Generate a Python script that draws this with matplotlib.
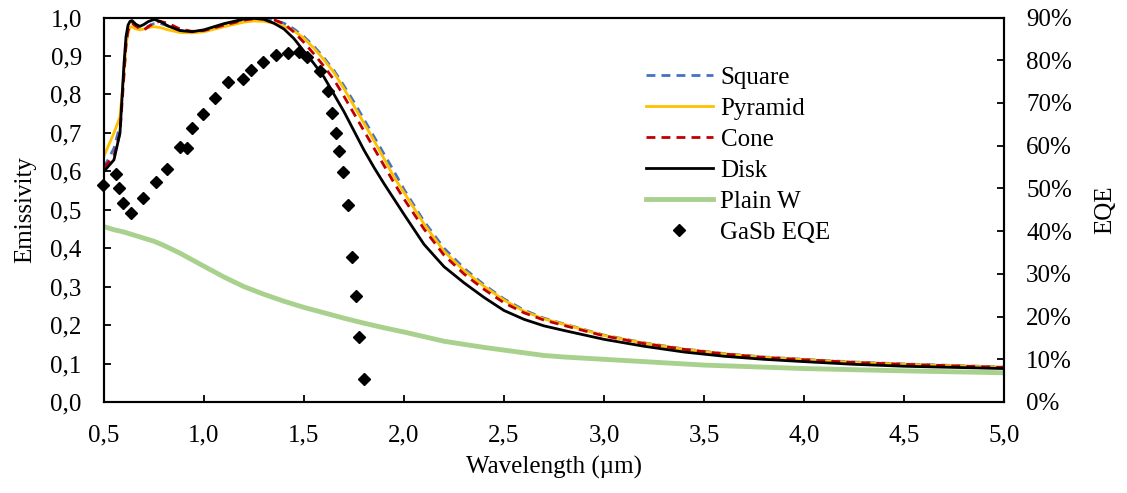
import numpy as np
import matplotlib
matplotlib.use("Agg")
import matplotlib.pyplot as plt
from matplotlib.ticker import FuncFormatter, MultipleLocator

plt.rcParams['font.family'] = ['Liberation Serif', 'STIXGeneral', 'DejaVu Serif']
plt.rcParams['font.size'] = 18

# wavelength grid (um) for the textured emitters
wl = [0.50, 0.55, 0.58, 0.60, 0.61, 0.62, 0.63, 0.64, 0.66, 0.68, 0.70, 0.72, 0.75,
      0.78, 0.82, 0.88, 0.94, 1.00, 1.10, 1.20, 1.25, 1.30, 1.35, 1.40, 1.45, 1.50,
      1.55, 1.60, 1.65, 1.70, 1.75, 1.80, 1.85, 1.90, 1.95, 2.00, 2.10, 2.20, 2.30,
      2.40, 2.50, 2.60, 2.70, 2.80, 3.00, 3.20, 3.40, 3.60, 3.80, 4.00, 4.25, 4.50,
      4.75, 5.00]

square = [0.61, 0.66, 0.72, 0.86, 0.93, 0.965, 0.98, 0.982, 0.975, 0.968, 0.970, 0.977, 0.984,
          0.985, 0.978, 0.966, 0.962, 0.965, 0.978, 0.990, 0.994, 0.995, 0.992, 0.985, 0.970, 0.950,
          0.925, 0.895, 0.862, 0.822, 0.780, 0.735, 0.690, 0.645, 0.600, 0.553, 0.470, 0.400, 0.348,
          0.305, 0.268, 0.239, 0.218, 0.203, 0.174, 0.154, 0.138, 0.126, 0.117, 0.111, 0.104, 0.099,
          0.095, 0.091]

pyramid = [0.64, 0.70, 0.742, 0.86, 0.925, 0.96, 0.975, 0.976, 0.970, 0.968, 0.970, 0.974, 0.976,
           0.974, 0.968, 0.961, 0.960, 0.963, 0.976, 0.988, 0.991, 0.990, 0.985, 0.977, 0.965, 0.946,
           0.920, 0.890, 0.857, 0.815, 0.770, 0.725, 0.680, 0.633, 0.585, 0.545, 0.463, 0.392, 0.342,
           0.301, 0.265, 0.236, 0.216, 0.202, 0.173, 0.153, 0.137, 0.125, 0.116, 0.110, 0.103, 0.098,
           0.094, 0.090]

cone = [0.61, 0.64, 0.70, 0.85, 0.93, 0.965, 0.982, 0.985, 0.978, 0.970, 0.968, 0.975, 0.986,
        0.990, 0.985, 0.970, 0.964, 0.966, 0.980, 0.993, 0.997, 0.998, 0.994, 0.984, 0.962, 0.935,
        0.905, 0.873, 0.838, 0.795, 0.750, 0.705, 0.660, 0.615, 0.570, 0.528, 0.450, 0.382, 0.333,
        0.293, 0.258, 0.232, 0.213, 0.199, 0.172, 0.152, 0.137, 0.125, 0.116, 0.110, 0.103, 0.098,
        0.094, 0.090]

disk = [0.60, 0.63, 0.70, 0.88, 0.95, 0.980, 0.990, 0.992, 0.982, 0.977, 0.982, 0.989, 0.995,
        0.990, 0.978, 0.966, 0.963, 0.968, 0.984, 0.996, 0.998, 0.995, 0.985, 0.970, 0.945, 0.912,
        0.880, 0.845, 0.800, 0.755, 0.705, 0.655, 0.610, 0.568, 0.528, 0.488, 0.410, 0.352, 0.310,
        0.272, 0.238, 0.215, 0.198, 0.186, 0.163, 0.145, 0.130, 0.119, 0.111, 0.105, 0.098, 0.093,
        0.090, 0.087]

# plain tungsten
wl_w = [0.50, 0.55, 0.60, 0.65, 0.70, 0.75, 0.80, 0.88, 0.94, 1.00, 1.10, 1.20, 1.30, 1.40,
        1.50, 1.60, 1.70, 1.80, 1.90, 2.00, 2.20, 2.40, 2.50, 2.70, 2.80, 3.00, 3.40, 3.50,
        4.00, 4.50, 5.00]
plain_w = [0.456, 0.448, 0.442, 0.434, 0.426, 0.418, 0.407, 0.387, 0.370, 0.353, 0.325, 0.300,
           0.280, 0.262, 0.246, 0.232, 0.218, 0.205, 0.193, 0.182, 0.158, 0.142, 0.135, 0.121,
           0.117, 0.111, 0.099, 0.096, 0.087, 0.081, 0.076]

# GaSb cell EQE (%)
wl_eqe = [0.497, 0.56, 0.577, 0.594, 0.635, 0.694, 0.76, 0.817, 0.88, 0.917, 0.939, 0.997,
          1.055, 1.119, 1.197, 1.235, 1.294, 1.36, 1.419, 1.475, 1.515, 1.578, 1.618, 1.64,
          1.66, 1.677, 1.697, 1.72, 1.74, 1.76, 1.777, 1.80]
eqe = [50.9, 53.3, 50.0, 46.6, 44.2, 47.7, 51.6, 54.5, 59.6, 59.4, 64.2, 67.4,
       71.1, 75.0, 75.5, 77.7, 79.7, 81.2, 81.8, 82.0, 80.8, 77.5, 72.9, 67.6,
       62.9, 58.8, 53.9, 46.1, 33.9, 24.9, 15.3, 5.5]

fig = plt.figure(figsize=(11.27, 4.93), dpi=100)
ax = fig.add_axes([104 / 1127, 1 - 402 / 493, 900 / 1127, 384.5 / 493])
ax2 = ax.twinx()

l1, = ax.plot(wl, square, color='#4472C4', lw=2, ls=(0, (3.2, 2.2)), label='Square')
l2, = ax.plot(wl, pyramid, color='#FFC000', lw=2, label='Pyramid')
l3, = ax.plot(wl, cone, color='#C00000', lw=2, ls=(0, (3.2, 2.2)), label='Cone')
l4, = ax.plot(wl, disk, color='black', lw=2, label='Disk')
l5, = ax.plot(wl_w, plain_w, color='#A9D18E', lw=3.5, label='Plain W')
l6, = ax2.plot(wl_eqe, eqe, ls='none', marker='D', ms=6.5, color='black',
               clip_on=False, label='GaSb EQE')

ax.set_xlim(0.5, 5.0)
ax.set_ylim(0, 1.0)
ax2.set_ylim(0, 90)

comma = FuncFormatter(lambda v, p: f"{v:.1f}".replace('.', ','))
ax.xaxis.set_major_locator(MultipleLocator(0.5))
ax.yaxis.set_major_locator(MultipleLocator(0.1))
ax.xaxis.set_major_formatter(comma)
ax.yaxis.set_major_formatter(comma)
ax2.yaxis.set_major_locator(MultipleLocator(10))
ax2.yaxis.set_major_formatter(FuncFormatter(lambda v, p: f"{v:.0f}%"))

ax.tick_params(direction='in', length=5, width=1.3, labelsize=18, pad=16)
ax2.tick_params(direction='in', length=5, width=1.3, labelsize=18, pad=16)
for a in (ax, ax2):
    for s in a.spines.values():
        s.set_linewidth(1.5)

ax.set_xlabel('Wavelength (µm)', fontsize=18, labelpad=7)
ax.set_ylabel('Emissivity', fontsize=18, labelpad=10)
ax2.set_ylabel('EQE', fontsize=18, labelpad=16)

leg = ax2.legend(handles=[l1, l2, l3, l4, l5, l6], loc='upper left',
                 bbox_to_anchor=(633 / 1127, 1 - 54 / 493), bbox_transform=fig.transFigure,
                 frameon=False, fontsize=18, handlelength=2.7, handletextpad=0.3,
                 labelspacing=0.34, numpoints=1, borderpad=0)

fig.savefig('out.png', dpi=100)
